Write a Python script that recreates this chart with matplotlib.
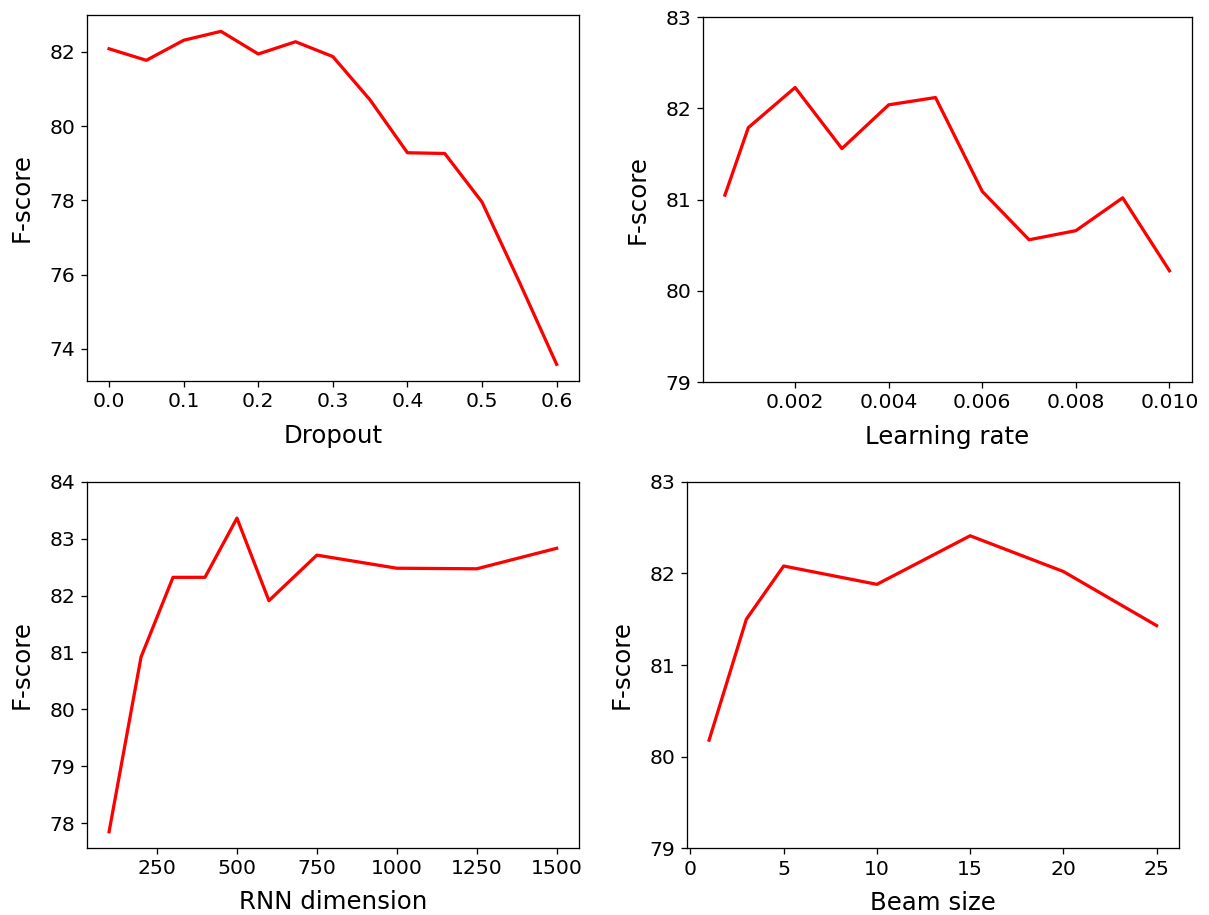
import matplotlib
matplotlib.use('Agg')
import matplotlib.pyplot as plt

# values
dropout = [0.0, 0.05, 0.1, 0.15, 0.2, 0.25, 0.3, 0.35, 0.4, 0.45, 0.5, 0.55, 0.6]
dropout_f = [82.08, 81.77, 82.31, 82.55, 81.94, 82.27, 81.87, 80.70, 79.28, 79.26, 77.95, 75.80, 73.58]

lr = [0.0005, 0.001, 0.002, 0.003, 0.004, 0.005, 0.006, 0.007, 0.008, 0.009, 0.01]
lr_f = [81.05, 81.79, 82.23, 81.56, 82.04, 82.12, 81.09, 80.56, 80.66, 81.02, 80.22]

rnn_dim = [100, 200, 300, 400, 500, 600, 750, 1000, 1250, 1500]
rnn_f = [77.85, 80.92, 82.32, 82.32, 83.36, 81.91, 82.71, 82.48, 82.47, 82.83]
rnn_ticks = [250, 500, 750, 1000, 1250, 1500]

beam = [1, 3, 5, 10, 15, 20, 25]
beam_f = [80.18, 81.50, 82.08, 81.88, 82.41, 82.02, 81.43]

W, H = 1209, 915
DPI = 117
fig = plt.figure(figsize=(W / DPI, H / DPI), dpi=DPI)


def px_axes(left, top, right, bottom):
    # axes box given in pixel coordinates of the final image
    return fig.add_axes([left / W, 1 - bottom / H, (right - left) / W, (bottom - top) / H])


ax1 = px_axes(86.7, 14.7, 579, 381)
ax2 = px_axes(702.7, 17.3, 1191.7, 382)
ax3 = px_axes(86.7, 481.7, 579, 847.7)
ax4 = px_axes(686.7, 481.7, 1179, 848.3)

ax1.plot(dropout, dropout_f, color='red', lw=2)
ax1.set_xlabel('Dropout')

ax2.plot(lr, lr_f, color='red', lw=2)
ax2.set_ylim(79, 83)
ax2.set_yticks([79, 80, 81, 82, 83])
ax2.set_xlabel('Learning rate')

ax3.plot(rnn_dim, rnn_f, color='red', lw=2)
ax3.set_ylim(77.57, 84)
ax3.set_xticks(rnn_ticks)
ax3.set_xlabel('RNN dimension')

ax4.plot(beam, beam_f, color='red', lw=2)
ax4.set_ylim(79, 83)
ax4.set_yticks([79, 80, 81, 82, 83])
ax4.set_xlabel('Beam size')

for ax in [ax1, ax2, ax3, ax4]:
    ax.set_ylabel('F-score', fontsize=15, labelpad=10)
    ax.xaxis.label.set_fontsize(15)
    ax.xaxis.labelpad = 7.5
    ax.tick_params(labelsize=12.5)

fig.savefig('out.png', dpi=DPI)
